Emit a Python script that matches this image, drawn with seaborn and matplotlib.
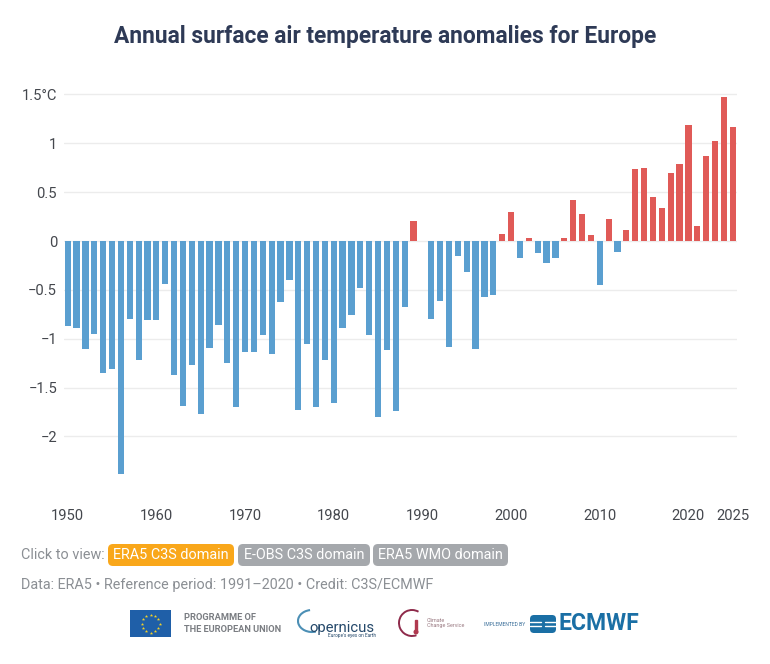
"""
Annual surface air temperature anomalies for Europe (ERA5)
"""
import matplotlib
matplotlib.use('Agg')
import matplotlib.pyplot as plt
import numpy as np
import pandas as pd
import seaborn as sns
from matplotlib.patches import Circle, FancyBboxPatch, Rectangle, Arc

years = list(range(1950, 2026))
anomalies = [
    -0.87, -0.89, -1.11, -0.95, -1.35, -1.31, -2.38, -0.80, -1.22, -0.81,
    -0.81, -0.44, -1.37, -1.69, -1.27, -1.77, -1.09, -0.86, -1.25, -1.70,
    -1.14, -1.14, -0.96, -1.16, -0.62, -0.40, -1.73, -1.05, -1.70, -1.22,
    -1.66, -0.89, -0.76, -0.48, -0.96, -1.80, -1.12, -1.74, -0.68, 0.21,
    0.00, -0.80, -0.61, -1.08, -0.15, -0.32, -1.11, -0.57, -0.55, 0.07,
    0.30, -0.17, 0.03, -0.12, -0.23, -0.17, 0.03, 0.42, 0.28, 0.06,
    -0.45, 0.23, -0.11, 0.11, 0.74, 0.75, 0.45, 0.34, 0.70, 0.79,
    1.19, 0.15, 0.87, 1.02, 1.47, 1.17,
]
x_ticks = [1950, 1960, 1970, 1980, 1990, 2000, 2010, 2020, 2025]
y_ticks = [1.5, 1, 0.5, 0, -0.5, -1, -1.5, -2]
y_labels = ['1.5°C', '1', '0.5', '0', '\u22120.5', '\u22121', '\u22121.5', '\u22122']

BLUE = '#5a9fd0'
RED = '#e05a57'
INK = '#44474d'
GREY = '#8b8f94'
W, H = 770, 664

sns.set_theme(style='white')
plt.rcParams['font.family'] = ['Roboto', 'DejaVu Sans']

df = pd.DataFrame({'year': years, 'anomaly': anomalies})
df['sign'] = np.where(df['anomaly'] >= 0, 'warm', 'cold')

fig = plt.figure(figsize=(W / 100, H / 100), dpi=100)
ax = fig.add_axes([64 / W, 1 - 480 / H, (737 - 64) / W, (480 - 85) / H])
sns.barplot(data=df, x='year', y='anomaly', hue='sign', dodge=False, native_scale=True,
            palette={'warm': RED, 'cold': BLUE}, saturation=1, width=0.7, linewidth=0,
            legend=False, ax=ax, zorder=3)
ax.set_xlim(1949.58, 2025.48)
ax.set_ylim(-2.446, 1.597)
ax.set_xlabel('')
ax.set_ylabel('')
sns.despine(ax=ax, left=True, bottom=True, top=True, right=True)
ax.set_yticks(y_ticks, y_labels)
ax.set_xticks(x_ticks, [str(t) for t in x_ticks])
ax.grid(axis='y', color='#ececec', linewidth=1, zorder=0)
ax.set_axisbelow(True)
ax.tick_params(axis='y', length=0, pad=5, labelsize=10.6, labelcolor=INK)
ax.tick_params(axis='x', length=0, pad=21, labelsize=10.6, labelcolor=INK)

# footer drawn in pixel coordinates
over = fig.add_axes([0, 0, 1, 1], zorder=5)
over.set_xlim(0, W)
over.set_ylim(H, 0)
over.axis('off')

over.text(385, 36, 'Annual surface air temperature anomalies for Europe', ha='center', va='center',
          fontsize=16.4, fontweight='bold', color='#2e3a56')

over.text(21, 555, 'Click to view:', ha='left', va='center', fontsize=10.4, color=GREY)
buttons = [(108, 234, 'ERA5 C3S domain', '#f9a71a'),
           (238, 370, 'E-OBS C3S domain', '#a5a8ac'),
           (373, 508, 'ERA5 WMO domain', '#a5a8ac')]
for x0, x1, label, colour in buttons:
    over.add_patch(FancyBboxPatch((x0 + 5, 549), x1 - x0 - 10, 12, boxstyle='round,pad=5',
                                  facecolor=colour, edgecolor='none'))
    over.text((x0 + x1) / 2, 555, label, ha='center', va='center', fontsize=10.4, color='white')
over.text(21, 585, 'Data: ERA5 • Reference period: 1991–2020 • Credit: C3S/ECMWF', ha='left', va='center',
          fontsize=10.4, color=GREY)

# EU flag
over.add_patch(Rectangle((130, 610), 41, 27, facecolor='#1f5fa8', edgecolor='none'))
for a in np.arange(12) * np.pi / 6:
    over.plot(150.5 + 9 * np.cos(a), 623.5 + 9 * np.sin(a), marker='*', ms=2.5, color='#f5d327', mew=0)
over.text(184, 618, 'PROGRAMME OF', fontsize=6.7, fontweight='bold', color='#7a7d82', va='center')
over.text(184, 629, 'THE EUROPEAN UNION', fontsize=6.7, fontweight='bold', color='#7a7d82', va='center')

# Copernicus
over.add_patch(Arc((312, 621), 28, 22, theta1=70, theta2=260, color='#4c8fb5', lw=1.5))
over.text(342, 628, 'opernicus', fontsize=10.7, color='#25496b', ha='center', va='center')
over.text(352, 636, "Europe's eyes on Earth", fontsize=3.4, color='#25496b', ha='center', va='center')

# Climate Change Service
over.add_patch(Arc((412, 623), 26, 26, theta1=70, theta2=300, color='#8e2a4a', lw=1.4))
over.add_patch(Circle((416, 632), 1.8, color='#b0394f'))
over.add_patch(Rectangle((415.2, 620), 1.6, 12, color='#b0394f'))
over.text(427, 620, 'Climate', fontsize=3.9, color='#9a7a82', va='center')
over.text(427, 626, 'Change Service', fontsize=3.9, color='#9a7a82', va='center')

# ECMWF
over.text(484, 624, 'IMPLEMENTED BY', fontsize=3.6, color='#3a6e99', va='center')
over.add_patch(FancyBboxPatch((534, 619), 18, 10, boxstyle='round,pad=4', facecolor='#1a6fa5', edgecolor='none'))
over.plot([530, 541], [622, 622], color='white', lw=1)
over.plot([530, 541], [626, 626], color='white', lw=1)
over.plot([545, 556], [622, 622], color='white', lw=1)
over.plot([545, 556], [626, 626], color='white', lw=1)
over.text(559, 624, 'ECMWF', fontsize=16.5, fontweight='bold', color='#1a6fa5', va='center')

fig.savefig('out.png', dpi=100)
